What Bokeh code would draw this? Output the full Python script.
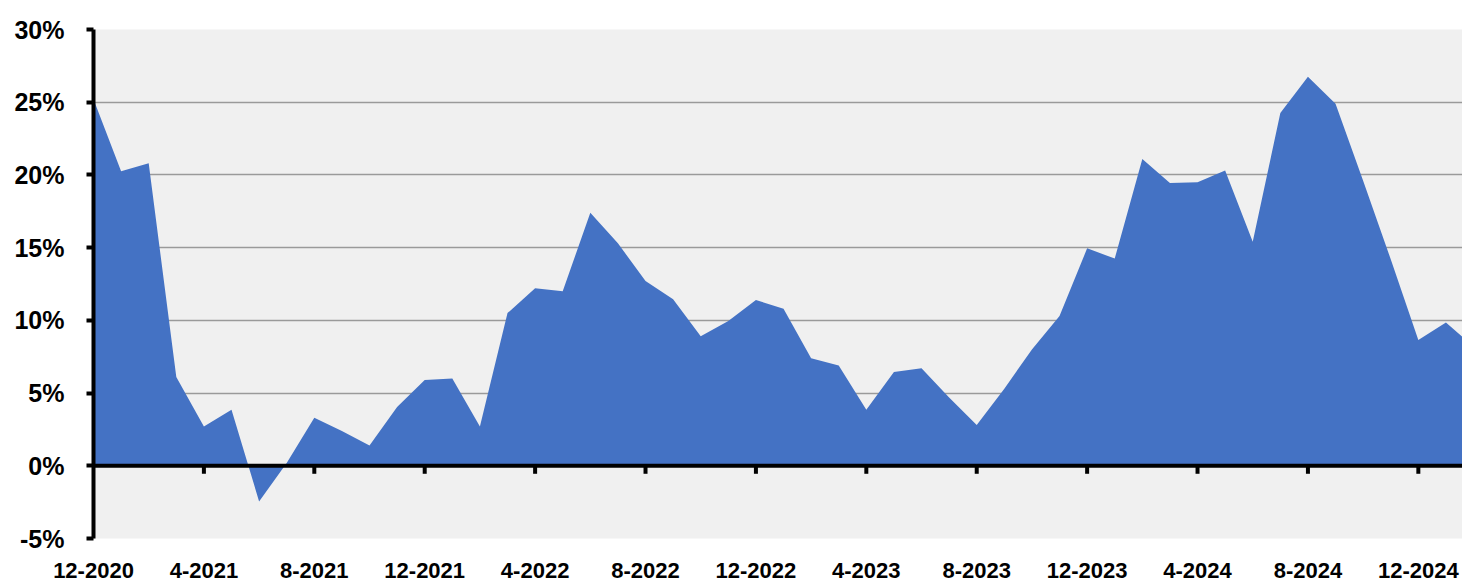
from bokeh.plotting import figure
from bokeh.models import FixedTicker, Span, ColumnDataSource, PrintfTickFormatter
from bokeh.embed import file_html
from bokeh.resources import INLINE

# Monthly values (%), 12-2020 .. 2-2025
months = []
_m, _y = 12, 2020
for _ in range(51):
    months.append(f"{_m}-{_y}")
    _m += 1
    if _m > 12:
        _m, _y = 1, _y + 1

values = [25.2, 20.25, 20.8, 6.1, 2.7, 3.85, -2.45, 0.2, 3.3, 2.4,
          1.4, 4.05, 5.9, 6.0, 2.7, 10.5, 12.2, 12.0, 17.4, 15.3,
          12.7, 11.45, 8.9, 9.95, 11.4, 10.8, 7.4, 6.9, 3.85, 6.45,
          6.7, 4.7, 2.8, 5.3, 8.0, 10.3, 14.95, 14.25, 21.1, 19.45,
          19.5, 20.3, 15.4, 24.25, 26.75, 24.9, 19.6, 14.2, 8.65, 9.85,
          8.2]

y_ticks = [-5, 0, 5, 10, 15, 20, 25, 30]
x_tick_idx = list(range(0, 49, 4))
x_tick_labels = {i: months[i] for i in x_tick_idx}

idx = list(range(len(values)))
src = ColumnDataSource(dict(x=idx, y=values, zero=[0] * len(values)))

p = figure(width=1462, height=585, x_range=(0, 49.6), y_range=(-5, 30),
           output_backend="svg", toolbar_location=None,
           min_border_left=93, min_border_right=0, min_border_top=29, min_border_bottom=47)
p.background_fill_color = "#F0F0F0"
p.border_fill_color = "white"
p.outline_line_color = None

p.varea(x="x", y1="zero", y2="y", source=src, fill_color="#4472C4")

# Y axis
p.yaxis.ticker = FixedTicker(ticks=y_ticks)
p.yaxis.formatter = PrintfTickFormatter(format="%d%%")
p.yaxis.axis_line_width = 4
p.yaxis.axis_line_color = "black"
p.yaxis.major_tick_line_width = 4
p.yaxis.major_tick_out = 7
p.yaxis.major_tick_in = 0
p.yaxis.minor_tick_line_color = None
p.yaxis.major_label_text_font = "Liberation Sans"
p.yaxis.major_label_text_font_style = "bold"
p.yaxis.major_label_text_font_size = "25px"
p.yaxis.major_label_text_color = "black"
p.yaxis.major_label_standoff = 22

# X axis: labels only at bottom
p.xaxis.ticker = FixedTicker(ticks=x_tick_idx)
p.xaxis.major_label_overrides = x_tick_labels
p.xaxis.axis_line_color = None
p.xaxis.major_tick_line_color = None
p.xaxis.minor_tick_line_color = None
p.xaxis.major_tick_out = 0
p.xaxis.major_tick_in = 0
p.xaxis.major_label_standoff = 24
p.xaxis.major_label_text_font = "Liberation Sans"
p.xaxis.major_label_text_font_style = "bold"
p.xaxis.major_label_text_font_size = "22px"
p.xaxis.major_label_text_color = "black"

# Grid
p.xgrid.grid_line_color = None
p.ygrid.ticker = FixedTicker(ticks=y_ticks)
p.ygrid.grid_line_color = "#9a9a9a"
p.ygrid.grid_line_width = 1.5

# Zero line with ticks
p.add_layout(Span(location=0, dimension="width", line_color="black", line_width=4))
tick_src = ColumnDataSource(dict(x=x_tick_idx[1:], y0=[0] * (len(x_tick_idx) - 1),
                                 y1=[-0.55] * (len(x_tick_idx) - 1)))
p.segment(x0="x", y0="y0", x1="x", y1="y1", source=tick_src, line_color="black", line_width=4)

open("out.html", "w").write(file_html(p, INLINE))
